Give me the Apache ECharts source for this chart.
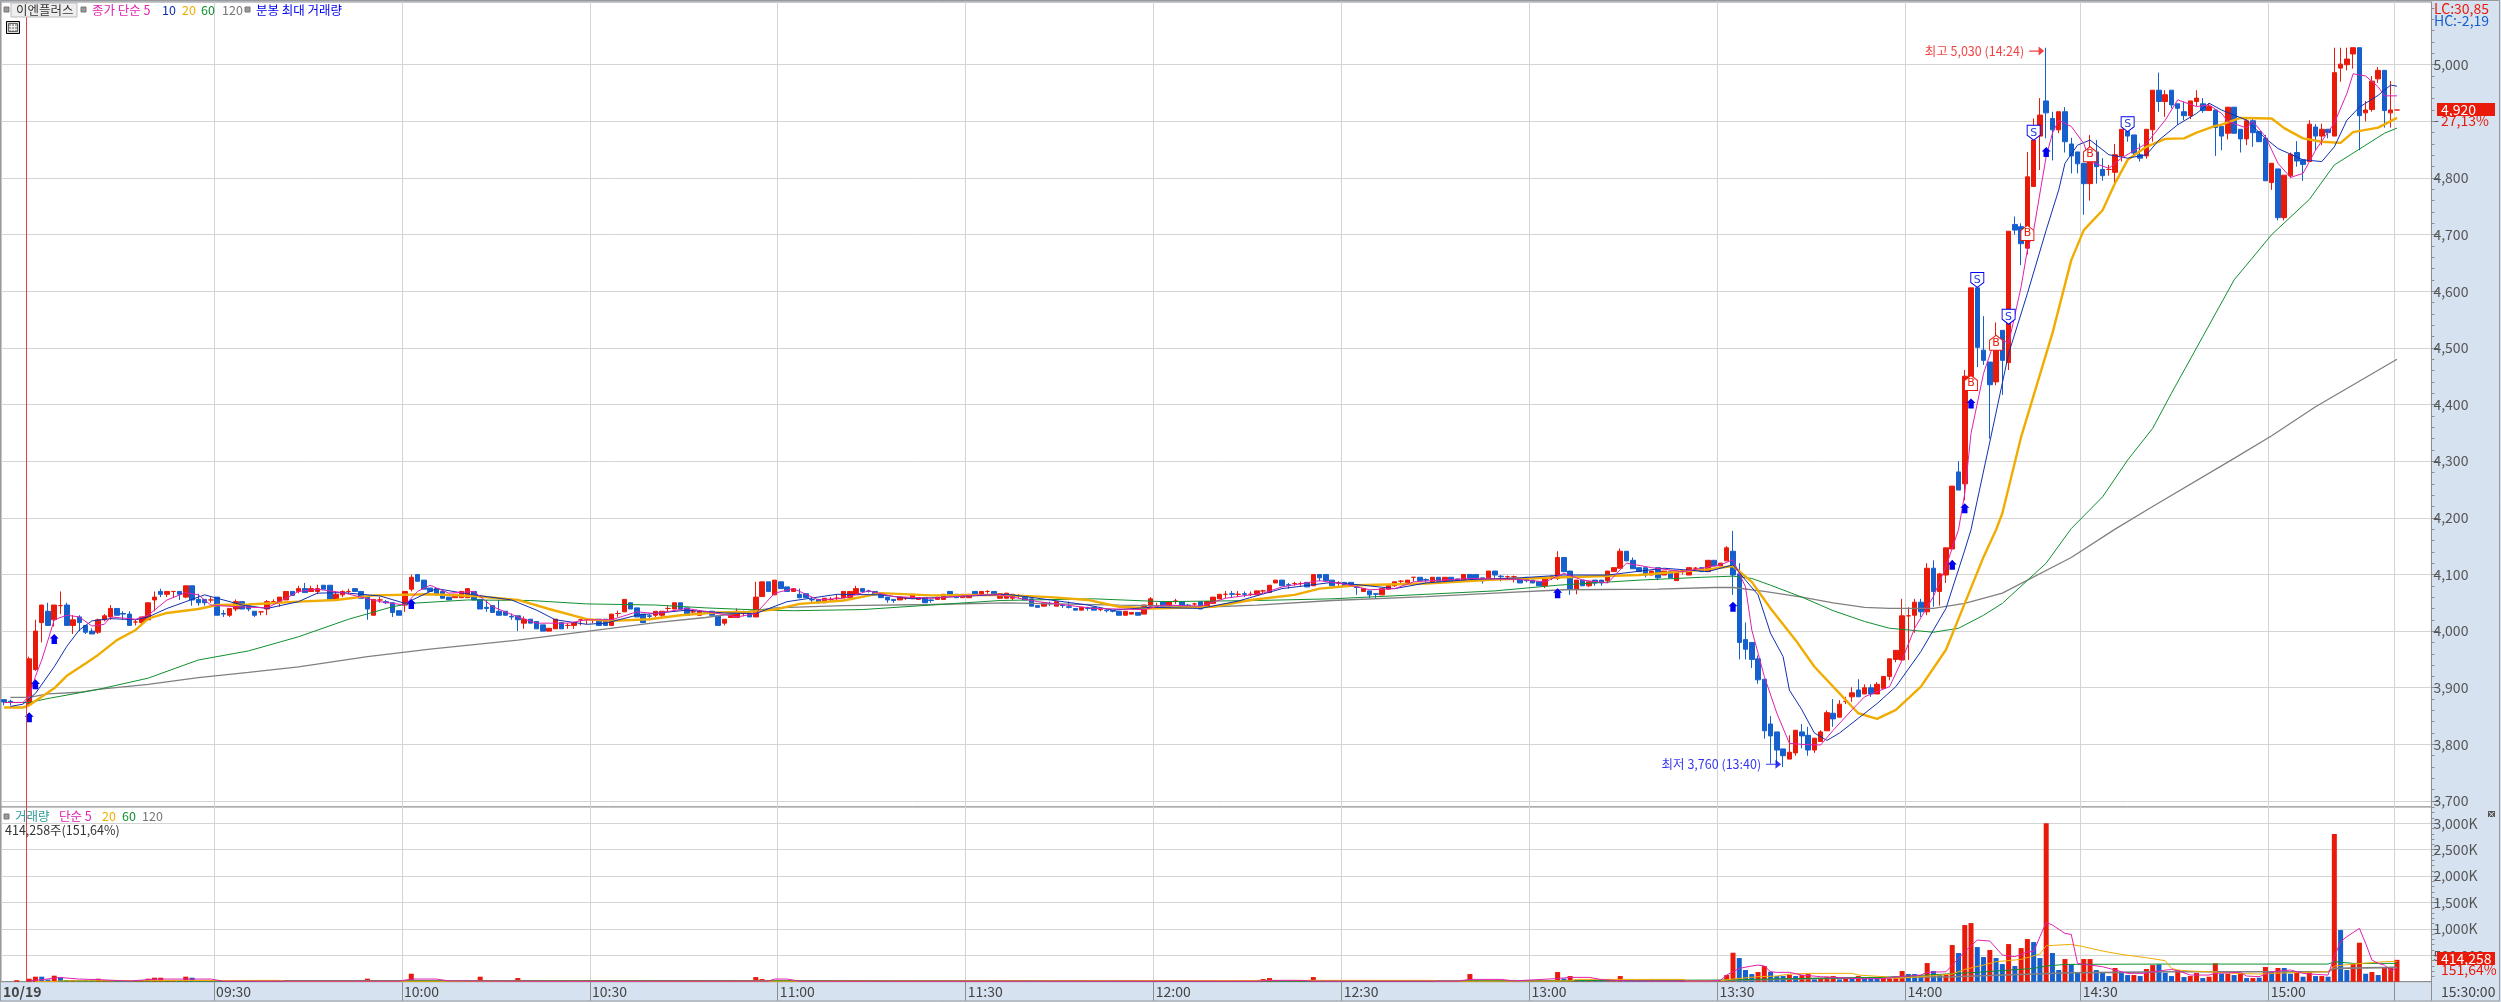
<!DOCTYPE html>
<html><head><meta charset="utf-8">
<style>html,body{margin:0;padding:0;background:#fff}#c{width:2501px;height:1002px}</style>
<script src="https://cdn.jsdelivr.net/npm/echarts@6/dist/echarts.min.js"></script>
</head><body><div id="c"></div>
<script>
// [open, close, low, high] per one-minute slot; null = no bar
const candles = [
[3879,3875,3869,3879],[3876,3875,3869,3879],null,null,
[3870,3951,3870,3955],[3932,4000,3930,4020],[4015,4046,3980,4046],[4035,4010,4010,4050],[4020,4046,4008,4046],[4045,4045,4030,4070],
[4046,4010,4010,4050],[4010,4020,3995,4028],[4025,4015,4000,4028],[4010,3998,3995,4010],[4000,3995,3995,4005],[3998,4020,3995,4022],[4020,4027,4017,4030],[4025,4040,4020,4046],[4040,4028,4028,4040],[4031,4030,4020,4035],
[4030,4010,4010,4035],[4016,4016,4010,4020],[4015,4025,4010,4025],[4020,4050,4020,4050],[4055,4060,4035,4070],[4070,4065,4060,4075],[4065,4070,4060,4070],[4070,4070,4060,4070],[4070,4065,4055,4070],[4060,4080,4058,4080],
[4080,4055,4045,4080],[4056,4050,4045,4066],[4056,4050,4045,4056],[4055,4055,4050,4060],[4060,4028,4028,4060],[4031,4030,4025,4037],[4028,4040,4025,4040],[4039,4052,4035,4056],[4052,4039,4039,4052],[4046,4039,4035,4046],
[4035,4028,4025,4035],[4034,4034,4028,4034],[4039,4052,4028,4055],[4052,4052,4046,4056],[4050,4060,4043,4060],[4055,4070,4055,4070],[4070,4063,4063,4070],[4070,4075,4067,4080],[4075,4068,4068,4085],[4070,4075,4070,4080],
[4070,4075,4065,4082],[4081,4074,4074,4081],[4081,4055,4055,4081],[4055,4065,4055,4070],[4064,4070,4060,4072],[4070,4070,4065,4075],[4075,4070,4070,4075],[4070,4058,4058,4070],[4060,4039,4020,4060],[4028,4056,4028,4056],
[4055,4055,4050,4060],[4052,4050,4048,4055],[4050,4033,4025,4050],[4036,4028,4028,4036],[4046,4070,4034,4070],[4074,4095,4070,4100],[4100,4088,4088,4100],[4090,4074,4074,4090],[4076,4070,4070,4076],[4075,4064,4064,4075],
[4070,4058,4058,4070],[4060,4055,4055,4060],[4059,4065,4059,4065],[4059,4070,4059,4070],[4059,4075,4059,4075],[4070,4055,4055,4070],[4056,4039,4039,4056],[4042,4040,4034,4055],[4045,4033,4033,4045],[4035,4028,4028,4055],
[4035,4028,4028,4035],[4026,4025,4020,4031],[4027,4020,4000,4027],[4014,4021,4004,4026],[4021,4014,4014,4021],[4017,4004,4004,4017],[4011,4000,4000,4011],[4000,4005,4000,4005],[4004,4021,4004,4021],[4015,4004,4004,4015],
[4010,4010,4004,4014],[4010,4015,4004,4015],[4020,4020,4010,4021],[4020,4020,4012,4021],[4020,4020,4014,4021],[4021,4010,4010,4021],[4021,4010,4010,4021],[4010,4030,4010,4030],[4031,4031,4025,4036],[4034,4056,4034,4056],
[4050,4039,4039,4050],[4041,4025,4025,4041],[4030,4015,4015,4030],[4027,4026,4022,4030],[4028,4035,4025,4035],[4028,4035,4025,4035],[4040,4040,4035,4045],[4039,4050,4039,4050],[4050,4039,4039,4050],[4041,4028,4028,4041],
[4034,4034,4030,4038],[4028,4035,4028,4035],[4034,4033,4030,4036],[4035,4028,4028,4035],[4027,4010,4010,4027],[4014,4021,4010,4021],[4024,4030,4024,4030],[4024,4035,4024,4040],[4031,4031,4026,4036],[4031,4025,4025,4031],
[4025,4060,4025,4087],[4061,4087,4061,4087],[4087,4070,4070,4087],[4064,4090,4064,4090],[4087,4075,4075,4087],[4078,4070,4070,4078],[4070,4075,4070,4075],[4065,4059,4058,4075],[4066,4059,4059,4066],[4056,4055,4050,4060],
[4056,4050,4050,4056],[4050,4058,4050,4058],[4056,4056,4052,4060],[4058,4058,4052,4065],[4059,4070,4059,4070],[4059,4070,4059,4070],[4064,4075,4064,4080],[4075,4070,4070,4075],[4071,4070,4068,4073],[4070,4064,4064,4070],
[4067,4059,4059,4067],[4060,4055,4050,4060],[4056,4054,4050,4056],[4055,4060,4055,4060],[4058,4058,4055,4060],[4058,4065,4058,4065],[4056,4059,4056,4059],[4059,4050,4050,4059],[4055,4054,4050,4056],[4056,4060,4056,4060],
[4056,4065,4056,4065],[4070,4064,4064,4070],[4065,4059,4059,4065],[4059,4065,4059,4065],[4059,4065,4059,4065],[4070,4064,4064,4070],[4065,4070,4065,4070],[4070,4070,4066,4072],[4070,4064,4064,4070],[4058,4066,4058,4066],
[4058,4067,4058,4067],[4058,4065,4055,4065],[4062,4062,4058,4065],[4060,4055,4055,4060],[4057,4044,4044,4057],[4045,4042,4042,4045],[4044,4050,4044,4050],[4049,4048,4044,4052],[4044,4052,4044,4052],[4046,4045,4041,4048],
[4043,4042,4040,4052],[4040,4037,4037,4040],[4037,4042,4037,4042],[4041,4040,4036,4043],[4042,4037,4037,4042],[4038,4038,4035,4040],[4037,4036,4033,4038],[4037,4035,4033,4037],[4035,4028,4028,4035],[4028,4035,4028,4035],
[4030,4033,4030,4033],[4033,4028,4028,4033],[4030,4046,4030,4046],[4044,4057,4044,4060],[4045,4045,4042,4050],[4052,4044,4044,4052],[4044,4052,4044,4052],[4053,4053,4048,4057],[4052,4044,4044,4052],[4046,4045,4042,4048],
[4048,4048,4044,4050],[4052,4039,4039,4052],[4044,4052,4044,4052],[4049,4060,4049,4060],[4057,4065,4057,4065],[4065,4065,4058,4071],[4066,4065,4060,4071],[4065,4065,4060,4071],[4066,4065,4060,4070],[4065,4065,4062,4070],
[4064,4071,4064,4071],[4071,4071,4066,4073],[4068,4081,4068,4081],[4085,4090,4085,4090],[4090,4080,4080,4090],[4082,4081,4075,4085],[4084,4084,4080,4087],[4084,4084,4080,4087],[4086,4078,4078,4086],[4080,4100,4080,4100],
[4100,4094,4088,4100],[4100,4089,4089,4100],[4090,4080,4080,4090],[4085,4085,4080,4088],[4086,4080,4080,4086],[4086,4080,4080,4086],[4078,4077,4064,4078],[4070,4075,4070,4075],[4071,4064,4058,4071],[4066,4065,4058,4067],
[4064,4075,4064,4075],[4074,4081,4074,4081],[4080,4087,4078,4087],[4088,4088,4084,4090],[4085,4090,4085,4090],[4095,4095,4087,4095],[4095,4089,4089,4095],[4091,4090,4086,4093],[4087,4095,4087,4095],[4095,4087,4087,4095],
[4089,4095,4089,4095],[4095,4089,4089,4095],[4092,4089,4089,4092],[4089,4100,4089,4100],[4100,4093,4093,4100],[4100,4093,4088,4100],[4094,4089,4084,4094],[4094,4106,4094,4106],[4106,4099,4094,4106],[4097,4096,4088,4099],
[4096,4096,4090,4098],[4096,4096,4086,4098],[4091,4085,4085,4091],[4095,4089,4086,4095],[4090,4085,4085,4090],[4087,4080,4080,4087],[4080,4095,4076,4095],[4096,4096,4090,4098],[4093,4130,4090,4141],[4130,4105,4105,4130],
[4106,4074,4064,4106],[4074,4090,4065,4090],[4090,4080,4080,4090],[4080,4087,4078,4087],[4090,4085,4080,4090],[4090,4085,4080,4090],[4089,4106,4085,4106],[4105,4112,4105,4112],[4111,4141,4111,4146],[4141,4124,4124,4141],
[4125,4110,4110,4130],[4112,4105,4105,4112],[4112,4099,4095,4112],[4099,4106,4099,4106],[4112,4094,4090,4112],[4099,4106,4099,4106],[4106,4094,4094,4106],[4089,4106,4089,4106],[4106,4106,4100,4108],[4099,4112,4099,4112],
[4111,4111,4106,4113],[4112,4105,4105,4112],[4105,4125,4105,4125],[4125,4115,4115,4125],[4115,4120,4115,4120],[4124,4147,4124,4150],[4141,4099,4064,4177],[4101,3980,3950,4120],[3985,3968,3950,4015],[3980,3950,3935,3980],
[3951,3914,3907,3957],[3915,3824,3810,3915],[3836,3815,3766,3850],[3822,3790,3766,3822],[3792,3780,3760,3792],[3774,3786,3774,3816],[3785,3825,3780,3825],[3822,3815,3793,3836],[3816,3790,3780,3831],[3790,3811,3785,3811],
[3805,3822,3805,3825],[3824,3856,3824,3860],[3855,3845,3831,3880],[3848,3871,3848,3878],[3876,3876,3871,3884],[3884,3891,3875,3901],[3896,3884,3884,3915],[3889,3900,3889,3906],[3900,3889,3884,3906],[3889,3906,3889,3910],
[3899,3920,3899,3920],[3920,3951,3913,3951],[3950,3966,3945,3966],[3949,4027,3949,4057],[4027,4027,3949,4042],[4028,4051,3997,4057],[4051,4034,4025,4057],[4034,4111,4028,4120],[4111,4070,4043,4125],[4070,4101,4045,4103],
[4099,4147,4085,4147],[4145,4256,4145,4256],[4281,4249,4249,4300],[4260,4450,4231,4461],[4449,4606,4425,4606],[4606,4501,4466,4606],[4496,4478,4470,4556],[4475,4435,4340,4475],[4440,4499,4434,4545],[4531,4478,4417,4531],
[4474,4706,4461,4706],[4718,4708,4700,4732],[4714,4684,4646,4720],[4676,4802,4665,4846],[4785,4867,4785,4905],[4874,4911,4814,4941],[4936,4915,4870,5030],[4905,4885,4831,4917],[4885,4917,4879,4917],[4917,4864,4845,4925],
[4860,4839,4808,4871],[4846,4825,4808,4846],[4826,4790,4735,4826],[4790,4832,4760,4876],[4846,4820,4790,4867],[4815,4804,4795,4835],[4815,4815,4804,4823],[4810,4841,4790,4860],[4839,4886,4829,4886],[4882,4874,4864,4896],
[4876,4844,4838,4876],[4841,4835,4829,4861],[4839,4886,4834,4886],[4885,4955,4864,4955],[4955,4935,4917,4986],[4935,4947,4908,4955],[4955,4929,4923,4955],[4931,4923,4894,4931],[4917,4910,4902,4935],[4910,4936,4904,4936],
[4935,4941,4927,4955],[4931,4919,4915,4941],[4919,4926,4919,4931],[4920,4889,4839,4920],[4891,4874,4849,4891],[4879,4925,4868,4925],[4925,4879,4879,4925],[4886,4869,4845,4886],[4869,4901,4858,4905],[4901,4880,4855,4905],
[4882,4864,4864,4882],[4870,4795,4795,4876],[4792,4826,4779,4826],[4816,4730,4725,4816],[4730,4805,4725,4805],[4804,4842,4800,4845],[4845,4830,4820,4865],[4832,4824,4795,4832],[4829,4895,4829,4902],[4890,4874,4849,4895],
[4874,4886,4858,4896],[4886,4880,4870,4886],[4874,4986,4874,5030],[4994,5001,4970,5030],[5000,5010,4990,5030],[5019,5030,4993,5030],[5030,4910,4849,5030],[4915,4920,4900,4936],[4921,4971,4917,4980],[4975,4990,4968,4996],
[4990,4919,4889,4990],[4915,4920,4889,4971],[4920,4920,4920,4920]
];
// volume per slot in thousands of shares; negative = drawn blue
const volumes = [
0,0,19,0,57,95,-95,-40,114,-82,
-30,20,-25,-20,-15,57,15,20,-15,-10,
-15,10,15,57,76,76,15,10,-15,95,
-76,-15,-12,10,-20,-8,12,15,-12,-10,
-10,8,15,10,15,20,-12,15,-12,10,
12,-10,-15,12,12,8,-10,-12,57,15,
8,-8,-12,-10,20,151,-20,-15,-10,-12,
-10,-10,12,15,15,-12,95,-10,-10,-10,
-8,-8,69,12,-10,-12,-12,10,15,-12,
8,10,8,8,8,-12,-12,15,8,20,
-12,-12,-12,-8,10,10,8,15,-12,-12,
8,10,-8,-10,-15,10,10,12,8,-8,
88,50,-15,15,-10,-10,10,-10,-10,-8,
-8,10,8,8,12,12,12,-10,-8,-10,
-10,-10,-8,10,8,10,8,-10,-8,10,
12,-10,-10,10,10,-10,10,8,-10,12,
12,10,8,-10,-15,-8,10,-8,12,-8,
-10,-8,10,-8,-8,8,-8,-8,-12,12,
10,-8,15,20,10,-12,12,10,-12,-8,
8,-15,12,15,15,8,-8,10,-8,8,
12,50,69,10,-12,-8,8,8,-12,88,
-10,-12,-12,8,-10,-10,-8,10,-10,-8,
12,12,12,8,10,8,-10,-8,12,-10,
10,-10,-8,15,145,-10,-10,20,-12,-8,
8,8,-10,-10,-10,-12,20,8,183,-60,
107,30,-15,12,-10,-10,25,15,107,-30,
-15,-12,-15,10,-15,10,-12,15,8,12,
8,-10,25,-15,12,
126,549,-448,-221,-145,183,297,-190,-107,-107,133,-107,126,145,-44,63,95,107,-44,63,-82,107,-82,-76,-82,95,63,82,202,-145,-145,-107,353,-202,-126,145,694,-543,1073,1110,-656,-467,600,-448,-334,713,-297,637,808,-751,-448,3000,-543,-221,429,-334,-183,429,429,-221,-170,-107,259,
-183,-126,126,-107,240,315,-328,-170,-107,221,-88,107,164,-69,95,347,-151,151,-126,151,-69,69,-76,278,-202,259,-259,-151,183,-95,202,-107,107,-95,2795,-978,-221,334,738,-151,183,-126,259,271,414
];
// moving averages: [slot, value]
const ma5 = [[0,3874],[3,3874],[4,3885],[5,3920],[6,3949],[7,3984],[8,4020],[10,4028],[12,4025],[14,4009],[16,4012],[17,4025],[21,4021],[23,4028],[26,4055],[29,4068],[31,4064],[33,4046],[37,4043],[42,4041],[45,4058],[47,4070],[50,4074],[54,4068],[60,4052],[64,4046],[66,4070],[68,4081],[71,4067],[75,4070],[78,4043],[82,4025],[85,4014],[90,4014],[93,4020],[97,4020],[101,4034],[104,4031],[109,4040],[114,4031],[117,4025],[120,4031],[123,4067],[126,4075],[130,4055],[134,4058],[138,4071],[142,4061],[148,4058],[156,4064],[159,4064],[165,4052],[174,4040],[182,4038],[185,4046],[191,4044],[195,4058],[201,4067],[204,4078],[210,4089],[214,4083],[218,4073],[222,4075],[225,4087],[234,4093],[242,4091],[246,4087],[249,4102],[252,4090],[256,4085],[259,4120],[263,4112],[268,4105],[274,4117],[276,4126],[278,4078],[279,4002],[281,3920],[283,3855],[285,3802],[287,3800],[290,3799],[292,3825],[295,3861],[297,3884],[301,3902],[303,3949],[305,4005],[308,4061],[310,4114],[312,4179],[313,4243],[314,4349],[316,4455],[318,4520],[320,4508],[322,4608],[323,4673],[324,4708],[326,4838],[327,4879],[328,4902],[330,4891],[332,4861],[333,4829],[336,4817],[338,4835],[342,4861],[345,4902],[347,4938],[350,4926],[352,4929],[354,4914],[355,4900],[358,4888],[359,4900],[361,4873],[363,4826],[365,4801],[367,4808],[369,4849],[372,4897],[374,4949],[375,4984],[377,4980],[379,4961],[380,4945],[382,4945]];
const ma10 = [[1,3867],[3,3871],[5,3890],[8,3937],[10,3973],[12,4002],[14,4018],[17,4022],[21,4020],[23,4025],[26,4040],[29,4052],[32,4064],[34,4058],[38,4046],[42,4040],[47,4052],[50,4067],[54,4068],[60,4062],[64,4049],[69,4075],[75,4064],[81,4055],[85,4037],[88,4020],[93,4012],[96,4014],[101,4028],[109,4037],[115,4032],[120,4031],[125,4052],[133,4065],[140,4064],[145,4057],[152,4061],[160,4065],[163,4061],[167,4055],[173,4046],[177,4037],[183,4042],[191,4040],[197,4053],[204,4075],[212,4086],[217,4081],[222,4075],[227,4085],[234,4091],[242,4094],[249,4099],[256,4099],[265,4111],[272,4105],[276,4117],[278,4090],[280,4064],[282,3996],[284,3955],[285,3896],[287,3861],[289,3820],[291,3807],[293,3820],[296,3846],[299,3872],[302,3902],[306,3964],[310,4040],[313,4143],[314,4179],[315,4231],[317,4334],[320,4490],[323,4596],[326,4708],[328,4779],[329,4826],[331,4858],[333,4867],[336,4841],[339,4835],[342,4841],[344,4867],[347,4894],[350,4914],[352,4932],[354,4920],[358,4902],[359,4891],[361,4870],[363,4852],[365,4842],[367,4832],[370,4829],[372,4855],[374,4902],[376,4925],[379,4946],[381,4964],[382,4962]];
const ma20 = [[0,3865],[3,3865],[4,3869],[6,3884],[8,3899],[10,3921],[13,3943],[15,3958],[18,3984],[21,4002],[23,4022],[26,4032],[31,4039],[34,4046],[39,4047],[47,4052],[53,4055],[59,4063],[68,4065],[75,4062],[82,4055],[87,4039],[93,4021],[97,4018],[103,4021],[108,4028],[114,4033],[119,4034],[123,4038],[127,4048],[134,4054],[140,4067],[148,4063],[159,4064],[167,4060],[173,4055],[178,4043],[183,4040],[193,4043],[199,4055],[206,4064],[210,4075],[216,4081],[227,4084],[238,4091],[249,4095],[261,4099],[272,4109],[276,4115],[279,4087],[282,4040],[286,3984],[289,3937],[293,3890],[296,3855],[299,3845],[302,3861],[306,3902],[310,3967],[313,4049],[316,4131],[318,4179],[319,4208],[322,4343],[327,4526],[330,4655],[332,4708],[335,4743],[337,4791],[339,4832],[342,4855],[345,4869],[348,4870],[350,4880],[353,4892],[354,4894],[357,4906],[362,4905],[364,4888],[367,4870],[370,4864],[373,4862],[375,4881],[379,4889],[382,4906]];
const ma60 = [[0,3874],[4,3874],[7,3881],[15,3897],[23,3917],[31,3949],[39,3965],[47,3990],[55,4021],[62,4043],[65,4049],[74,4055],[84,4054],[93,4048],[104,4046],[112,4041],[121,4037],[126,4036],[137,4038],[148,4046],[159,4054],[174,4057],[185,4052],[200,4054],[212,4057],[227,4065],[238,4071],[248,4081],[261,4090],[271,4095],[276,4097],[279,4093],[282,4081],[287,4060],[292,4036],[297,4017],[301,4005],[308,3998],[312,4005],[316,4028],[319,4049],[326,4120],[330,4181],[335,4237],[339,4302],[343,4358],[346,4420],[351,4520],[356,4620],[362,4700],[368,4762],[372,4823],[376,4851],[380,4879],[382,4888]];
const ma120 = [[1,3883],[4,3883],[7,3889],[12,3892],[15,3897],[23,3906],[31,3918],[39,3927],[47,3937],[58,3955],[68,3968],[82,3984],[94,4001],[104,4015],[112,4024],[123,4041],[134,4045],[148,4047],[160,4050],[178,4046],[193,4043],[200,4046],[212,4054],[227,4061],[238,4067],[249,4073],[264,4074],[273,4077],[276,4077],[281,4070],[287,4060],[292,4050],[297,4042],[301,4040],[308,4040],[313,4049],[319,4067],[330,4130],[337,4180],[343,4220],[356,4305],[362,4345],[369,4396],[382,4480]];
const volMa5 = [[4,19],[6,38],[9,82],[10,69],[12,50],[15,40],[20,12],[23,40],[25,50],[33,50],[35,10],[63,10],[65,50],[69,50],[71,15],[87,8],[96,8],[122,12],[123,50],[125,50],[127,10],[200,10],[202,25],[207,25],[209,10],[232,10],[234,44],[239,44],[241,15],[248,60],[250,82],[253,82],[255,40],[258,20],[260,15],[272,12],[274,25],[275,126],[277,252],[279,297],[280,315],[281,297],[282,189],[283,177],[285,177],[287,126],[290,95],[292,82],[296,57],[300,57],[302,95],[304,107],[306,126],[307,177],[310,189],[311,315],[313,568],[315,789],[317,770],[319,505],[321,473],[323,568],[324,568],[325,852],[326,1123],[327,1073],[329,915],[330,896],[331,347],[333,315],[335,284],[337,221],[339,158],[342,158],[343,189],[346,233],[347,208],[349,126],[352,126],[353,158],[357,177],[358,107],[360,95],[362,189],[365,221],[367,158],[369,139],[371,126],[372,473],[373,757],[374,852],[376,1010],[377,726],[378,410],[379,347],[380,315],[381,208],[382,252]];
const volMa20 = [[5,6],[8,6],[9,15],[20,20],[44,25],[45,8],[96,8],[124,10],[209,25],[228,25],[229,8],[250,15],[251,44],[268,44],[269,10],[274,20],[276,50],[280,95],[283,107],[285,145],[288,158],[295,158],[296,126],[300,95],[302,63],[306,95],[311,145],[313,233],[316,315],[318,379],[322,423],[325,524],[326,681],[330,707],[332,662],[335,580],[338,517],[342,454],[345,398],[346,252],[347,221],[349,202],[352,189],[356,158],[360,145],[362,158],[371,189],[372,296],[375,334],[380,379],[382,385]];
const volMa60 = [[9,13],[60,13],[100,19],[171,19],[171,6],[232,6],[234,19],[249,19],[275,32],[281,50],[300,82],[315,177],[324,252],[326,297],[329,328],[345,334],[371,334],[372,379],[375,347],[382,347]];
const volMa120 = [[30,12],[60,15],[120,19],[275,19],[290,63],[311,95],[324,145],[330,170],[337,177],[345,189],[371,189],[372,252],[382,271]];
// signal marks: [slot, price]
const arrowMarks = [[4,3848],[5,3906],[8,3986],[65,4048],[248,4067],[276,4043],[311,4117],[313,4217],[314,4402],[326,4846]];
const buyMarks = [[314,4438],[318,4509],[323,4703],[333,4842]];
const sellMarks = [[315,4620],[320,4555],[324,4880],[339,4895]];
const highMark = [[326,5024]];
const lowMark = [[284,3765]];
// tick labels: slot -> text
const timeTicks = [[34,'09:30'],[64,'10:00'],[94,'10:30'],[124,'11:00'],[154,'11:30'],[184,'12:00'],[214,'12:30'],[244,'13:00'],[274,'13:30'],[304,'14:00'],[332,'14:30'],[362,'15:00'],[382,'']];
const priceLabels = [3700,3800,3900,4000,4100,4200,4300,4400,4500,4600,4700,4800,5000];
const priceGrid = [3700,3800,3900,4000,4100,4200,4300,4400,4500,4600,4700,4800,4900,5000];
const volLabels = [500,1000,1500,2000,2500,3000];

const SLOTS = 388, BAND = 6.264, LEFT = 1, W = SLOTS*BAND;
const PTOP = 2, PBOT = 807, VBOT = 981.7;
const FONT = "'Liberation Sans Narrow','Noto Sans CJK KR',sans-serif";
const RED='#EA1A0A', BLUE='#1560CC', GRIDC='#D4D4D4', AXC='#8E8E8E', STRIP='#D6E2F0';
const tickMap = new Map(timeTicks);
const categories = Array.from({length:SLOTS},(_,i)=>tickMap.has(i)?(tickMap.get(i)||' '):'s'+i);
const isTick = i=>tickMap.has(i);
const fmtComma = v=>String(v).replace(/\B(?=(\d{3})+$)/g,',');
const range=(a,b,s)=>{const r=[];for(let v=a;v<=b;v+=s)r.push(v);return r;};

const txt=(x,y,text,fill,opt={})=>({type:'text',silent:true,z:50,x,y,style:Object.assign({text,fill,font:(opt.bold?'bold ':'')+(opt.size||12)+'px '+FONT,textAlign:opt.align||'left',textVerticalAlign:'middle'},{})});
const box=(x,y,w,h,fill,stroke,z=49)=>({type:'rect',silent:true,z,shape:{x,y,width:w,height:h},style:{fill:fill,stroke:stroke||null,lineWidth:1}});
const ln=(x1,y1,x2,y2,c,z=49)=>({type:'line',silent:true,z,shape:{x1,y1,x2,y2},style:{stroke:c,lineWidth:1}});

const redX = Math.round(LEFT+4*BAND)+0.5;
const graphic=[
 box(0.5,0.5,2499,1000.5,null,'#999',60),
 ln(redX,PTOP,redX,VBOT,'#E04040',40),
 box(4,7,5,5,'#999','#777'),box(11,3,66,14,'#EEE','#BBB'),txt(16,10.5,'이엔플러스','#333',{size:12.5}),
 box(81,7,5,5,'#999','#777'),txt(92,10.5,'종가 단순 5','#E020B0',{size:12.5}),txt(162,10.5,'10','#1030B0',{size:12.5}),txt(182,10.5,'20','#F0AC00',{size:12.5}),txt(201,10.5,'60','#109030',{size:12.5}),txt(222,10.5,'120','#777',{size:12.5}),
 box(245,7,5,5,'#999','#777'),txt(256,10.5,'분봉 최대 거래량','#0000F0',{size:12.5}),
 box(6.5,21.5,13,12,'#DDD','#000'),box(8.5,23.5,9,8,'#AAA','#666'),ln(11.5,24,11.5,31,'#EEE'),ln(14.5,24,14.5,31,'#EEE'),ln(9,26.5,17,26.5,'#EEE'),ln(9,29.5,17,29.5,'#EEE'),
 box(4,814,5,5,'#999','#777'),txt(15,816,'거래량','#2E9A9A',{size:12.5}),txt(59,816,'단순 5','#E020B0',{size:12.5}),txt(102,816,'20','#F0AC00',{size:12.5}),txt(122,816,'60','#109030',{size:12.5}),txt(142,816,'120','#777',{size:12.5}),
 txt(5,830,'414,258주(151,64%)','#333',{size:12.5}),
 txt(2434,9,'LC:30,85',RED,{size:14}),txt(2434,21,'HC:-2,19',BLUE,{size:14}),
 box(2437,103,58,13,'#EA1A0A',null),txt(2441,109.5,'4,920','#FFF',{size:14}),txt(2441,121,'27,13%',RED,{size:14}),
 box(2437,952,58,13,'#EA1A0A',null),txt(2441,958.5,'414,258','#FFF',{size:14}),txt(2441,970,'151,64%',RED,{size:14}),
 box(2488,811,7,6,'#555',null),txt(2491.5,814,'×','#FFF',{size:8,align:'center'}),
 txt(3,991.5,'10/19','#444',{size:14,bold:true}),txt(2441,991.5,'15:30:00','#444',{size:14}),
];

const lineS=(name,data,color,width,xi,yi,z=5)=>({name,type:'line',data,xAxisIndex:xi,yAxisIndex:yi,showSymbol:false,symbol:'none',z,silent:true,animation:false,smooth:false,lineStyle:{color,width},itemStyle:{color}});
const markS=(name,data,path,size,fill,stroke,text,labelColor)=>({name,type:'scatter',data,xAxisIndex:0,yAxisIndex:0,symbol:path,symbolSize:size,z:10,silent:true,itemStyle:{color:fill,borderColor:stroke,borderWidth:stroke?1:0,opacity:1},label:text?{show:true,position:'inside',formatter:text,color:labelColor,fontSize:11,fontFamily:'DejaVu Sans'}:{show:false}});
const UP='path://M5,0 L10,5 L8,5 L8,11 L2,11 L2,5 L0,5 Z';
const HOUSE='path://M6,0 L12,5 L12,15 L0,15 L0,5 Z';
const SHIELD='path://M0,0 L12,0 L12,10 L6,15 L0,10 Z';
const RA='path://M0,4.4 L10,4.4 L10,0 L16,5 L10,10 L10,5.6 L0,5.6 Z';
const annot=(name,data,color,text)=>({name,type:'scatter',data,xAxisIndex:0,yAxisIndex:0,symbol:RA,symbolSize:[15,9],symbolOffset:[-9.5,0],z:10,silent:true,itemStyle:{color},label:{show:true,position:'left',distance:5,formatter:text,color,fontSize:12.5,fontFamily:FONT}});

const option={
 animation:false,backgroundColor:STRIP,graphic:{elements:graphic},
 grid:[
  {left:LEFT,top:PTOP,width:W,height:PBOT-PTOP,show:true,backgroundColor:'#fff',borderColor:AXC,borderWidth:1},
  {left:LEFT,top:PBOT,width:W,height:VBOT-PBOT,show:true,backgroundColor:'#fff',borderColor:AXC,borderWidth:1}
 ],
 xAxis:[
  {type:'category',gridIndex:0,data:categories,boundaryGap:true,axisLine:{show:false},axisTick:{show:false},axisLabel:{show:false},splitLine:{show:true,interval:i=>isTick(i),lineStyle:{color:GRIDC,width:1}}},
  {type:'category',gridIndex:1,data:categories,boundaryGap:true,axisLine:{show:true,lineStyle:{color:AXC}},
   axisTick:{show:true,length:19,interval:i=>isTick(i),lineStyle:{color:AXC}},
   axisLabel:{show:true,interval:i=>isTick(i),hideOverlap:false,formatter:v=>v.startsWith('s')?'':v,align:'left',margin:3,padding:[0,0,0,-1],color:'#444',fontSize:14,fontFamily:FONT},
   splitLine:{show:true,interval:i=>isTick(i),lineStyle:{color:GRIDC,width:1}}}
 ],
 yAxis:[
  {type:'value',gridIndex:0,position:'right',min:5000-(PBOT-64.7)/0.5664,max:5000+(64.7-PTOP)/0.5664,
   axisLine:{show:true,lineStyle:{color:AXC}},axisTick:{show:true,length:7,customValues:priceGrid,lineStyle:{color:'#666'}},
   axisLabel:{show:true,customValues:priceLabels,margin:2,formatter:fmtComma,color:'#555',fontSize:14,fontFamily:FONT},
   splitLine:{show:true,lineStyle:{color:GRIDC,width:1}}},
  {type:'value',gridIndex:0,position:'right',min:5000-(PBOT-64.7)/0.5664,max:5000+(64.7-PTOP)/0.5664,
   axisLine:{show:false},axisTick:{show:true,length:3,customValues:range(3700,5100,20),lineStyle:{color:AXC}},axisLabel:{show:false},splitLine:{show:false}},
  {type:'value',gridIndex:1,position:'right',min:0,max:(VBOT-PBOT)/26.4*500,
   axisLine:{show:true,lineStyle:{color:AXC}},axisTick:{show:true,length:7,customValues:volLabels,lineStyle:{color:'#666'}},
   axisLabel:{show:true,customValues:volLabels,margin:2,formatter:v=>v===500?'500,000':fmtComma(v)+'K',color:'#555',fontSize:14,fontFamily:FONT},
   splitLine:{show:true,lineStyle:{color:GRIDC,width:1}}},
  {type:'value',gridIndex:1,position:'right',min:0,max:(VBOT-PBOT)/26.4*500,
   axisLine:{show:false},axisTick:{show:true,length:3,customValues:range(100,3300,100),lineStyle:{color:AXC}},axisLabel:{show:false},splitLine:{show:false}}
 ],
 series:[
  {name:'분봉',type:'candlestick',xAxisIndex:0,yAxisIndex:0,z:3,silent:true,barWidth:5,
   data:candles.map(r=>r||['-','-','-','-']),
   itemStyle:{color:RED,color0:BLUE,borderColor:RED,borderColor0:BLUE,borderColorDoji:RED,borderWidth:1}},
  lineS('120',ma120,'#808080',1.3,0,0,4),
  lineS('60',ma60,'#109030',1,0,0,4),
  lineS('20',ma20,'#F0AC00',2.4,0,0,5),
  lineS('10',ma10,'#1030B0',1,0,0,6),
  lineS('5',ma5,'#E020B0',1,0,0,6),
  markS('arrows',arrowMarks,UP,[9,10],'#0000F0',null),
  markS('buy',buyMarks,HOUSE,[13,15],'#FFF',RED,'B',RED),
  markS('sell',sellMarks,SHIELD,[13,15],'#FFF','#0000F0','S','#2040E0'),
  annot('high',highMark,'#F01010','최고 5,030 (14:24)'),
  annot('low',lowMark,'#0000F0','최저 3,760 (13:40)'),
  {name:'거래량',type:'bar',xAxisIndex:1,yAxisIndex:2,z:3,silent:true,barWidth:5,barMinHeight:1.5,
   data:volumes.map(v=>v===0?'-':({value:Math.abs(v),itemStyle:{color:v<0?BLUE:RED}}))},
  lineS('v120',volMa120,'#808080',1.6,1,2,7),
  lineS('v60',volMa60,'#109030',1,1,2,7),
  lineS('v20',volMa20,'#F0AC00',1,1,2,7),
  lineS('v5',volMa5,'#E020B0',1,1,2,8)
 ]
};
const chart=echarts.init(document.getElementById('c'),null,{renderer:'canvas',width:2501,height:1002});
chart.setOption(option);
</script></body></html>
